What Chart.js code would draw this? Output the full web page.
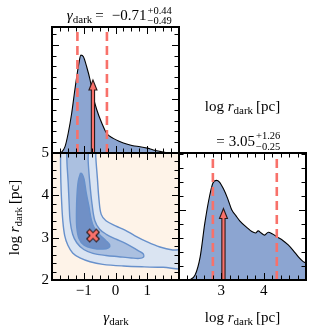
<!DOCTYPE html>
<html>
<head>
<meta charset="utf-8">
<script src="https://cdn.jsdelivr.net/npm/chart.js@4.4.1/dist/chart.umd.min.js"></script>
<style>
html,body{margin:0;padding:0;background:#fff;}
#wrap{position:relative;width:312px;height:333px;overflow:hidden;}
#wrap canvas{position:absolute;left:0;top:0;}
#txt{position:absolute;left:0;top:0;}
</style>
</head>
<body>
<div id="wrap">
<canvas id="cTL" width="312" height="333"></canvas>
<canvas id="cBL" width="312" height="333"></canvas>
<canvas id="cBR" width="312" height="333"></canvas>
<svg id="txt" width="312" height="333" xmlns="http://www.w3.org/2000/svg"></svg>
</div>
<script>
// ---------------- data ----------------
const gammaGrid    = [-2.0, -1.8, -1.69, -1.59, -1.49, -1.38, -1.28, -1.17, -1.09, -1.01, -0.91, -0.80, -0.70, -0.59, -0.43, -0.28, -0.07, 0.15, 0.35, 0.55, 0.77, 1.0, 1.19, 1.4, 1.61, 1.8, 2.0];
const gammaDensity = [0, 0, 0.02, 0.117, 0.365, 0.735, 1.17, 1.60, 1.81, 1.78, 1.60, 1.35, 1.04, 0.80, 0.55, 0.365, 0.27, 0.21, 0.167, 0.135, 0.117, 0.09, 0.056, 0.03, 0.006, 0.001, 0];

const logrGrid    = [2.0, 2.2, 2.26, 2.38, 2.50, 2.61, 2.72, 2.80, 2.89, 2.95, 3.05, 3.15, 3.245, 3.34, 3.44, 3.60, 3.72, 3.81, 3.87, 3.94, 4.02, 4.11, 4.20, 4.33, 4.46, 4.58, 4.70, 4.82, 4.92, 5.0];
const logrDensity = [0, 0, 0.005, 0.07, 0.33, 0.81, 1.19, 1.38, 1.42, 1.40, 1.30, 1.16, 1.0, 0.92, 0.84, 0.75, 0.69, 0.67, 0.70, 0.67, 0.64, 0.68, 0.66, 0.61, 0.56, 0.50, 0.42, 0.33, 0.27, 0.24];

const gammaMedian = -0.71, gammaErrPlus = 0.44, gammaErrMinus = 0.49;
const logrMedian  = 3.05,  logrErrPlus  = 1.26, logrErrMinus  = 0.25;
const arrowHeights = [1.35, 1.02];   // gamma panel, log r panel (density units)

const contourOuter = [
 [-1.72, 5.6], [-1.73, 4.8], [-1.72, 4.3], [-1.70, 3.9], [-1.66, 3.4], [-1.60, 3.05], [-1.50, 2.82], [-1.35, 2.64],
 [-1.12, 2.52], [-0.80, 2.43], [-0.40, 2.37], [0.25, 2.33], [0.9, 2.31], [1.5, 2.30], [2.2, 2.29],
 [2.2, 2.69], [1.8, 2.71], [1.4, 2.78], [1.0, 2.90], [0.6, 3.05], [0.3, 3.18], [0.0, 3.28], [-0.3, 3.40],
 [-0.45, 3.55], [-0.52, 3.9], [-0.57, 4.4], [-0.62, 4.9], [-0.66, 5.6]
];
const contourMiddle = [
 [-1.55, 5.6], [-1.53, 4.8], [-1.49, 4.3], [-1.46, 3.8], [-1.43, 3.4], [-1.35, 3.08], [-1.22, 2.88], [-1.0, 2.72],
 [-0.71, 2.63], [-0.3, 2.58], [0.1, 2.55], [0.5, 2.52], [0.75, 2.51], [0.88, 2.54], [0.87, 2.62], [0.7, 2.70],
 [0.33, 2.86], [0.0, 2.97], [-0.29, 3.08], [-0.5, 3.2], [-0.65, 3.4], [-0.74, 3.8], [-0.81, 4.3], [-0.86, 4.8], [-0.9, 5.6]
];
const contourInner = [
 [-1.10, 4.53], [-1.17, 4.35], [-1.21, 4.05], [-1.23, 3.6], [-1.22, 3.25], [-1.15, 2.98], [-1.0, 2.83], [-0.71, 2.75],
 [-0.4, 2.73], [-0.22, 2.76], [-0.18, 2.83], [-0.3, 2.93], [-0.5, 3.07], [-0.68, 3.25], [-0.76, 3.42], [-0.84, 3.75],
 [-0.92, 4.05], [-0.99, 4.38], [-1.05, 4.5]
];
const truthPoint = [gammaMedian, logrMedian];

const gammaRange = [-2, 2];
const logrRange = [2, 5];
const gammaDensityMax = 2.33;
const logrDensityMax = 1.81;
const gammaTickLabels = [-1, 0, 1];
const logrTickLabelsY = [2, 3, 4, 5];
const logrTickLabelsX = [3, 4];

// ---------------- style ----------------
const FONT = "'Liberation Serif', 'DejaVu Serif', serif";
const SALMON = '#f8716a', EDGE = '#2a1a1a', HIST = '#8ca5d1', LINE = '#6790cb';
const FILL_OUT = '#dae4f2', FILL_MID = '#abc0e0', FILL_IN = '#7090c6', BG = '#fef3e8';

const fmt = v => (v < 0 ? '\u2212' : '') + Math.abs(v);
const f2 = v => (v < 0 ? '\u2212' : '') + Math.abs(v).toFixed(2);
const pts = (xs, ys) => xs.map((x, i) => ({x, y: ys[i]}));
const poly = arr => { const p = arr.map(([x, y]) => ({x, y})); p.push({x: arr[0][0], y: arr[0][1]}); return p; };

// tick spacing per chart (minor, major)
const tickSpec = {
  cTL: {xMinor: 0.25, xMajor: 1, yMinor: 0.2, yMajor: 1, bg: null, arrow: {x: gammaMedian, h: arrowHeights[0]}},
  cBL: {xMinor: 0.25, xMajor: 1, yMinor: 0.2, yMajor: 1, bg: BG, arrow: null},
  cBR: {xMinor: 0.2, xMajor: 1, yMinor: 0.2, yMajor: 1, bg: null, arrow: {x: logrMedian, h: arrowHeights[1]}}
};

const cornerPlugin = {
  id: 'corner',
  beforeDatasetsDraw(chart) {
    const o = tickSpec[chart.canvas.id];
    if (!o || !o.bg) return;
    const {ctx, chartArea: a} = chart;
    ctx.save(); ctx.fillStyle = o.bg; ctx.fillRect(a.left, a.top, a.right - a.left, a.bottom - a.top); ctx.restore();
  },
  afterDatasetsDraw(chart) {
    const o = tickSpec[chart.canvas.id];
    const {ctx, chartArea: a, scales} = chart;
    const xs = scales.x, ys = scales.y;
    ctx.save();
    if (o.arrow) {
      const px = xs.getPixelForValue(o.arrow.x);
      const base = ys.getPixelForValue(ys.min);
      const tip = ys.getPixelForValue(o.arrow.h);
      const hl = 10, hw = 4, sw = 1.6;
      ctx.beginPath();
      ctx.moveTo(px - sw, base); ctx.lineTo(px - sw, tip + hl); ctx.lineTo(px - hw, tip + hl);
      ctx.lineTo(px, tip); ctx.lineTo(px + hw, tip + hl); ctx.lineTo(px + sw, tip + hl);
      ctx.lineTo(px + sw, base); ctx.closePath();
      ctx.fillStyle = SALMON; ctx.fill();
      ctx.lineWidth = 1.1; ctx.strokeStyle = EDGE; ctx.lineJoin = 'miter'; ctx.stroke();
    }
    ctx.fillStyle = '#000';
    const drawAxis = (scale, minor, major, horiz) => {
      const k0 = Math.ceil(scale.min / minor - 1e-9), k1 = Math.floor(scale.max / minor + 1e-9);
      for (let k = k0; k <= k1; k++) {
        const v = k * minor;
        const r = v / major;
        const L = Math.abs(r - Math.round(r)) < 1e-6 ? 7 : 4.5;
        const p = Math.round(scale.getPixelForValue(v));
        if (horiz) {
          ctx.fillRect(p, a.bottom - L, 1, L);
          ctx.fillRect(p, a.top, 1, L);
        } else {
          ctx.fillRect(a.left, p, L, 1);
          ctx.fillRect(a.right - L, p, L, 1);
        }
      }
    };
    drawAxis(xs, o.xMinor, o.xMajor, true);
    drawAxis(ys, o.yMinor, o.yMajor, false);
    ctx.lineWidth = 2; ctx.strokeStyle = '#000';
    ctx.strokeRect(a.left, a.top, a.right - a.left, a.bottom - a.top);
    ctx.restore();
  }
};

function tickFont() { return {family: FONT, size: 15}; }
function labelAxis(min, max, labels, pos, size) {
  return {
    type: 'linear', min, max, position: pos,
    grid: {display: false, drawTicks: false}, border: {display: false},
    ticks: {font: tickFont(), color: '#000', padding: pos === 'bottom' ? 2 : 3, maxRotation: 0, autoSkip: false, callback: v => fmt(v)},
    afterBuildTicks: s => { s.ticks = labels.map(v => ({value: v})); },
    afterFit: s => { if (pos === 'bottom') s.height = size; else s.width = size; }
  };
}
function hiddenAxis(min, max) { return {type: 'linear', min, max, display: false}; }
function baseOptions(padding, scales) {
  return {
    responsive: false, animation: false, devicePixelRatio: 1, events: [],
    layout: {padding},
    scales,
    elements: {point: {radius: 0}, line: {tension: 0}},
    plugins: {legend: {display: false}, tooltip: {enabled: false}}
  };
}
function dashSet(x, ymax) {
  return {data: [{x, y: 0}, {x, y: ymax}], borderColor: SALMON, borderWidth: 2.6, borderDash: [9, 5], pointRadius: 0, fill: false};
}
function histSet(xs, ys) {
  return {data: pts(xs, ys), borderColor: '#000', borderWidth: 1.1, backgroundColor: HIST, fill: 'origin', pointRadius: 0, cubicInterpolationMode: 'monotone'};
}

// ---- top-left: gamma marginal ----
new Chart(document.getElementById('cTL'), {
  type: 'line',
  data: {datasets: [
    dashSet(gammaMedian - gammaErrMinus, gammaDensityMax),
    dashSet(gammaMedian + gammaErrPlus, gammaDensityMax),
    histSet(gammaGrid, gammaDensity)
  ]},
  options: baseOptions({left: 52, top: 27, right: 133, bottom: 180},
    {x: hiddenAxis(gammaRange[0], gammaRange[1]), y: hiddenAxis(0, gammaDensityMax)}),
  plugins: [cornerPlugin]
});

// ---- bottom-left: 2D contours ----
const xMark = document.createElement('canvas');
xMark.width = 18; xMark.height = 18;
(function () {
  const c = xMark.getContext('2d');
  c.translate(9, 9); c.rotate(Math.PI / 4);
  const L = 6.8, w = 2.1;
  c.beginPath();
  c.moveTo(-w, -L); c.lineTo(w, -L); c.lineTo(w, -w); c.lineTo(L, -w); c.lineTo(L, w); c.lineTo(w, w);
  c.lineTo(w, L); c.lineTo(-w, L); c.lineTo(-w, w); c.lineTo(-L, w); c.lineTo(-L, -w); c.lineTo(-w, -w); c.closePath();
  c.fillStyle = SALMON; c.fill(); c.lineWidth = 1.1; c.strokeStyle = EDGE; c.lineJoin = 'miter'; c.stroke();
})();

function contourSet(arr, color) {
  return {data: poly(arr), borderColor: LINE, borderWidth: 1.4, backgroundColor: color, fill: 'shape', pointRadius: 0, tension: 0.35};
}
new Chart(document.getElementById('cBL'), {
  type: 'line',
  data: {datasets: [
    {data: [{x: truthPoint[0], y: truthPoint[1]}], showLine: false, pointStyle: xMark, pointRadius: 8, fill: false},
    contourSet(contourInner, FILL_IN),
    contourSet(contourMiddle, FILL_MID),
    contourSet(contourOuter, FILL_OUT)
  ]},
  options: baseOptions({left: 0, top: 153, right: 133, bottom: 33},
    {x: labelAxis(gammaRange[0], gammaRange[1], gammaTickLabels, 'bottom', 20),
     y: labelAxis(logrRange[0], logrRange[1], logrTickLabelsY, 'left', 52)}),
  plugins: [cornerPlugin]
});

// ---- bottom-right: log r marginal ----
new Chart(document.getElementById('cBR'), {
  type: 'line',
  data: {datasets: [
    dashSet(logrMedian - logrErrMinus, logrDensityMax),
    dashSet(logrMedian + logrErrPlus, logrDensityMax),
    histSet(logrGrid, logrDensity)
  ]},
  options: baseOptions({left: 179, top: 153, right: 6, bottom: 33},
    {x: labelAxis(logrRange[0], logrRange[1], logrTickLabelsX, 'bottom', 20),
     y: hiddenAxis(0, logrDensityMax)}),
  plugins: [cornerPlugin]
});

// ---------------- text ----------------
const svgFont = "font-family=\"Liberation Serif, DejaVu Serif, serif\" fill=\"#000\"";
const gam = '<tspan font-style="italic">γ</tspan><tspan font-size="11" dy="3">dark</tspan>';
const logr = 'log <tspan font-style="italic">r</tspan><tspan font-size="11" dy="3">dark</tspan><tspan dy="-3" dx="3">[pc]</tspan>';
document.getElementById('txt').innerHTML =
  `<g ${svgFont} font-size="15">
    <text x="146.5" y="20" text-anchor="end">${gam}<tspan dy="-3" dx="3">=</tspan><tspan dx="8">${f2(gammaMedian)}</tspan></text>
    <text x="147.5" y="13.5" font-size="10.5">+${f2(gammaErrPlus)}</text>
    <text x="147.5" y="23.5" font-size="10.5">${f2(-gammaErrMinus)}</text>
    <text x="242.5" y="111" text-anchor="middle">${logr}</text>
    <text x="255" y="145.5" text-anchor="end">=<tspan dx="4">${f2(logrMedian)}</tspan></text>
    <text x="256" y="138.5" font-size="10.5">+${f2(logrErrPlus)}</text>
    <text x="256" y="149.5" font-size="10.5">${f2(-logrErrMinus)}</text>
    <text x="116" y="322" text-anchor="middle">${gam}</text>
    <text x="242.5" y="322" text-anchor="middle">${logr}</text>
    <text transform="translate(18.5,217.5) rotate(-90)" text-anchor="middle">${logr}</text>
  </g>`;
</script>
</body>
</html>
